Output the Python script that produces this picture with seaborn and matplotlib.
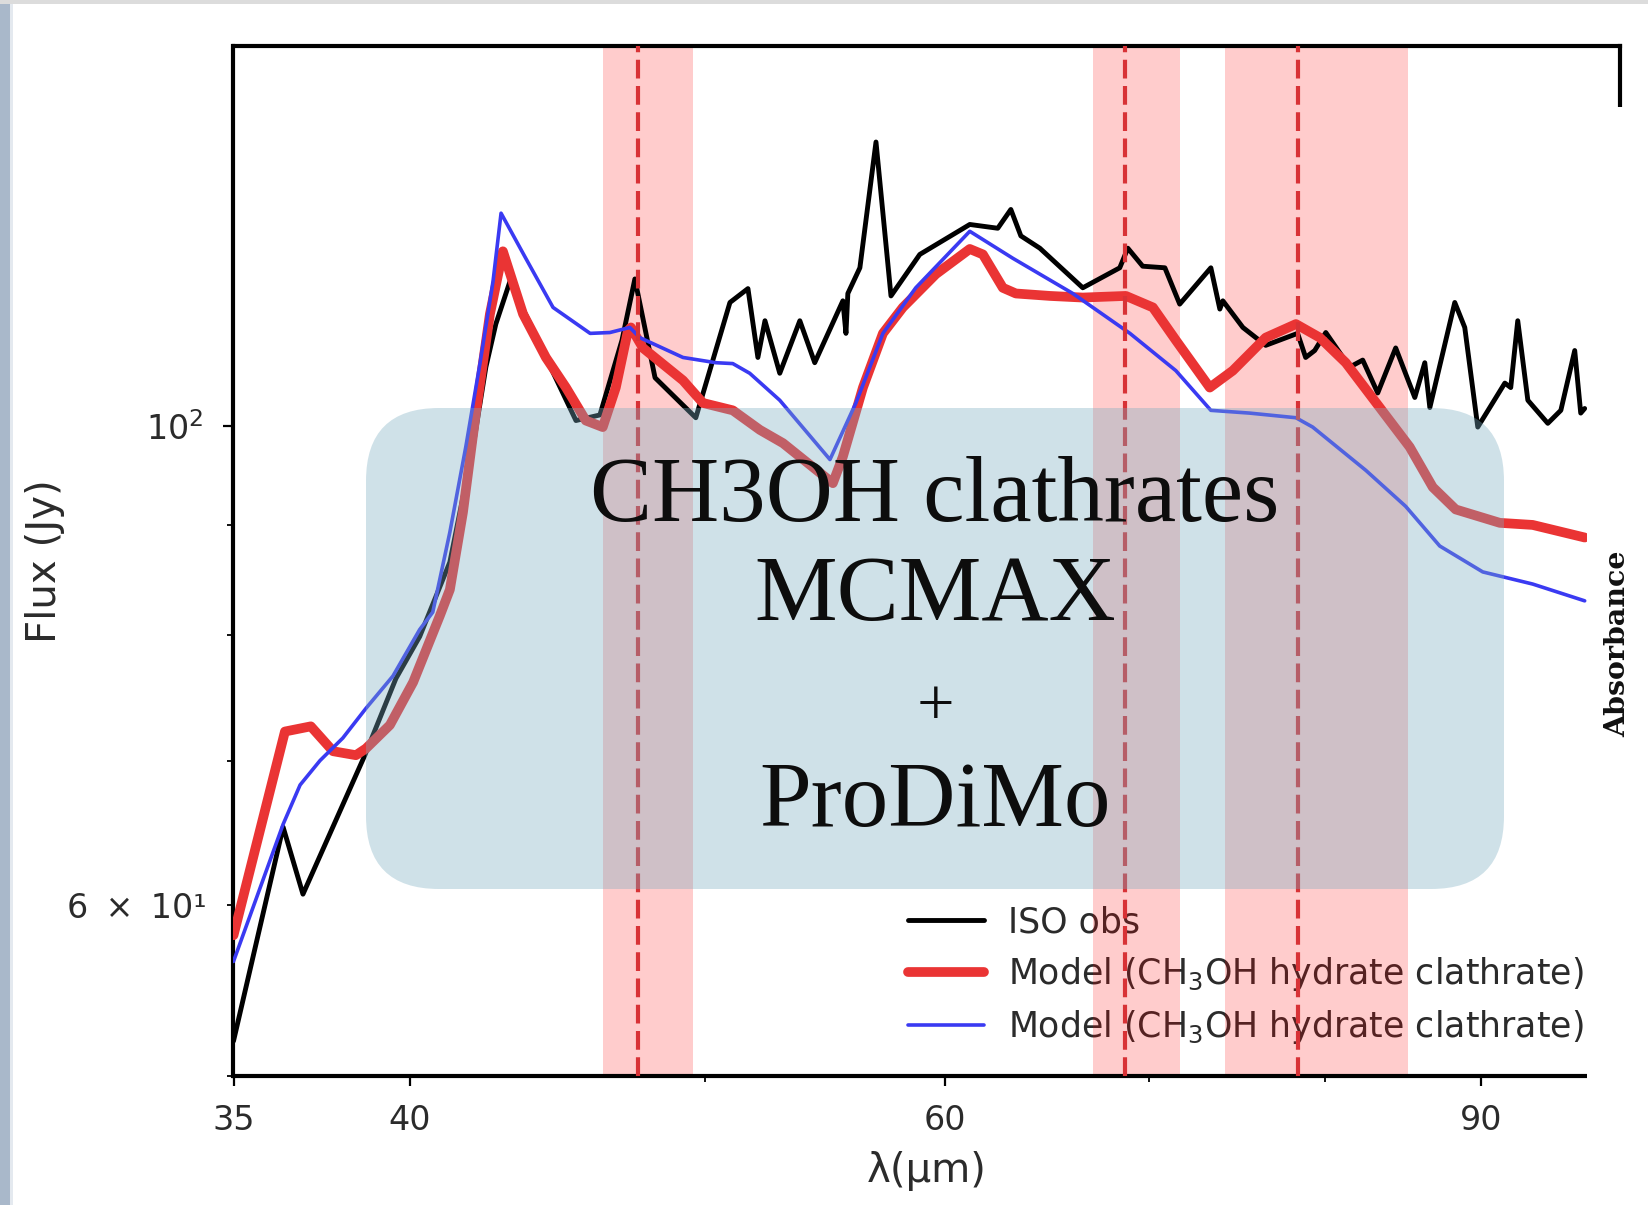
import math
import matplotlib
matplotlib.use("Agg")
import matplotlib.pyplot as plt
import matplotlib.ticker as mticker
from matplotlib.patches import FancyBboxPatch, Rectangle
import numpy as np
import pandas as pd
import seaborn as sns

# ---------------- data ----------------
iso_wl = [35.0, 36.34, 36.89, 38.66, 39.58, 40.30, 41.23, 41.96, 42.37, 42.69, 43.15, 44.34,
          45.36, 46.19, 46.97, 47.43, 48.16, 49.67, 50.97, 51.67, 52.06, 52.34, 52.93, 53.74,
          54.35, 55.52, 55.65, 55.73, 56.24, 56.93, 57.58, 58.85, 61.12, 62.43, 63.05, 63.53,
          64.45, 66.58, 68.47, 68.89, 69.67, 70.85, 71.65, 73.36, 73.86, 74.03, 75.16, 76.47,
          78.34, 78.82, 79.36, 80.03, 81.49, 82.30, 83.24, 84.38, 85.61, 86.26, 86.59, 88.24,
          88.91, 89.79, 91.65, 92.06, 92.55, 93.26, 94.68, 95.62, 96.63, 97.07, 97.36]
iso_flux = [51.9, 65.2, 60.7, 70.4, 76.4, 79.9, 86.5, 97.8, 106.5, 111.5, 116.7, 107.6,
            100.6, 101.2, 109.6, 117.0, 105.3, 100.9, 114.1, 115.8, 107.6, 111.9, 105.8, 111.9,
            107.0, 114.3, 110.4, 115.2, 118.4, 135.4, 114.9, 120.1, 124.0, 123.5, 126.0, 122.5,
            120.9, 115.9, 118.4, 120.9, 118.6, 118.4, 113.9, 118.4, 113.3, 114.3, 111.1, 109.0,
            110.4, 107.6, 108.4, 110.5, 106.5, 107.3, 103.6, 108.7, 103.1, 107.0, 102.0, 114.1,
            111.1, 99.9, 104.7, 104.2, 111.9, 102.8, 100.3, 101.7, 108.4, 101.4, 101.9]

red_wl = [35.0, 36.39, 37.11, 37.74, 38.40, 38.69, 39.40, 40.10, 40.92, 41.23, 41.64, 42.05,
          42.50, 42.92, 43.58, 44.34, 45.02, 45.70, 46.29, 46.75, 47.18, 47.29, 47.72, 49.19,
          49.94, 51.08, 52.14, 53.06, 55.10, 55.52, 56.37, 57.23, 58.10, 59.57, 61.12, 61.73,
          62.67, 63.29, 64.94, 66.58, 68.79, 70.21, 71.44, 73.30, 74.59, 76.47, 78.24, 79.67,
          81.25, 83.37, 85.28, 86.78, 88.30, 91.30, 93.60, 97.36]
red_flux = [58.1, 72.2, 72.6, 70.7, 70.4, 70.9, 72.7, 76.1, 81.7, 84.0, 91.2, 101.4,
            112.7, 120.5, 112.7, 107.6, 104.2, 100.6, 99.9, 104.2, 110.7, 111.1, 108.7, 105.0,
            102.5, 101.7, 99.6, 98.2, 94.1, 96.8, 104.2, 110.4, 113.5, 117.6, 120.8, 120.1,
            115.9, 115.2, 114.9, 114.7, 114.9, 113.5, 109.6, 104.2, 106.1, 109.9, 111.5, 109.9,
            107.0, 102.0, 97.8, 93.7, 91.5, 90.2, 90.0, 88.8]

blue_wl = [35.0, 36.34, 36.81, 37.37, 38.02, 38.69, 39.49, 40.30, 40.70, 41.23, 41.73, 42.18,
           42.60, 42.86, 43.67, 44.58, 45.85, 46.54, 47.25, 47.61, 49.19, 50.43, 51.08, 51.74,
           52.93, 54.98, 56.07, 57.23, 58.67, 61.12, 63.15, 66.08, 69.0, 71.44, 73.36, 75.55,
           78.24, 79.24, 82.49, 85.02, 87.24, 90.13, 93.60, 97.36]
blue_flux = [56.5, 65.4, 68.2, 70.0, 71.7, 74.0, 76.6, 80.5, 82.0, 89.3, 97.8, 106.9,
             116.7, 125.5, 119.6, 113.5, 110.4, 110.5, 111.1, 109.9, 107.6, 107.0, 106.9, 105.8,
             102.8, 96.5, 102.5, 110.4, 115.9, 123.1, 119.6, 115.2, 110.4, 106.1, 101.7, 101.4,
             100.9, 99.9, 95.4, 91.8, 88.0, 85.6, 84.5, 83.0]

band_centers = [47.54, 68.73, 78.34]
band_lo = [46.29, 67.08, 74.14]
band_hi = [49.56, 71.65, 85.15]

x_ticks = [35, 40, 60, 90]
x_minor = [50, 70, 80, 100]

labels = ["ISO obs",
          "Model (CH$_3$OH hydrate clathrate)",
          "Model (CH$_3$OH hydrate clathrate)"]

box_lines = ["CH3OH clathrates", "MCMAX", "+", "ProDiMo"]

SUPERSCRIPTS = str.maketrans("-0123456789", "⁻⁰¹²³⁴⁵⁶⁷⁸⁹")


class WideSciFormatter(mticker.LogFormatterSciNotation):
    """Log formatter with wider spacing around the multiplication sign."""
    def _non_decade_format(self, sign_string, base, fx, usetex):
        b = float(base)
        exponent = math.floor(fx)
        coeff = b ** (fx - exponent)
        if np.isclose(coeff, round(coeff)):
            coeff = round(coeff)
        return "%s%g \u2009×\u2009 %s%s" % (sign_string, coeff, base,
                                            str(exponent).translate(SUPERSCRIPTS))


# ---------------- style ----------------
sns.set_theme(style="white")
plt.rcParams["font.family"] = ["DejaVu Sans"]
plt.rcParams["mathtext.fontset"] = "dejavusans"

W, H = 1649, 1205
fig = plt.figure(figsize=(W / 100, H / 100), dpi=100)
fig.patch.set_facecolor("white")

ax_l, ax_r, ax_t, ax_b = 233.5, 1620, 46, 1076
ax = fig.add_axes([ax_l / W, 1 - ax_b / H, (ax_r - ax_l) / W, (ax_b - ax_t) / H])
ax.set_facecolor("white")

df_iso = pd.DataFrame({"wl": iso_wl, "flux": iso_flux})
df_red = pd.DataFrame({"wl": red_wl, "flux": red_flux})
df_blue = pd.DataFrame({"wl": blue_wl, "flux": blue_flux})

sns.lineplot(data=df_iso, x="wl", y="flux", ax=ax, color="black", lw=3.5,
             sort=False, estimator=None, label=labels[0], zorder=3)
sns.lineplot(data=df_red, x="wl", y="flux", ax=ax, color="#ea3434", lw=7.0,
             sort=False, estimator=None, label=labels[1], zorder=3.2)
sns.lineplot(data=df_blue, x="wl", y="flux", ax=ax, color="#3a3af2", lw=2.6,
             sort=False, estimator=None, label=labels[2], zorder=3.4)

for lo, hi in zip(band_lo, band_hi):
    ax.axvspan(lo, hi, color="red", alpha=0.2, lw=0, zorder=1)
for c in band_centers:
    ax.axvline(c, color="#d83236", lw=3.0, ls=(0, (4.5, 1.8)), zorder=4)

ax.set_xscale("log")
ax.set_yscale("log")
ax.set_xlim(35, 100)
ax.set_ylim(50, 150)

ax.xaxis.set_major_locator(mticker.FixedLocator(x_ticks))
ax.xaxis.set_major_formatter(mticker.FixedFormatter([str(t) for t in x_ticks]))
ax.xaxis.set_minor_locator(mticker.FixedLocator(x_minor))
ax.xaxis.set_minor_formatter(mticker.NullFormatter())
ax.yaxis.set_major_formatter(WideSciFormatter(10))
ax.yaxis.set_minor_formatter(WideSciFormatter(10, labelOnlyBase=False))

tick_col = "#2b2b2b"
ax.tick_params(axis="both", which="major", direction="out", length=7, width=1.6,
               labelsize=24, labelcolor=tick_col, color="black")
ax.tick_params(axis="both", which="minor", direction="out", length=4, width=1.3,
               labelsize=24, labelcolor=tick_col, color="black")
ax.tick_params(axis="x", which="both", pad=13.5, bottom=True)
ax.tick_params(axis="y", which="both", pad=15, left=True)

for s in ax.spines.values():
    s.set_linewidth(3.0)
    s.set_color("black")

ax.set_xlabel("λ(μm)", fontsize=29, color=tick_col, labelpad=9.5)
ax.set_ylabel("Flux (Jy)", fontsize=29, color=tick_col, labelpad=2)

leg = ax.legend(loc="lower right", bbox_to_anchor=(1584 / W, 1 - 1046 / H),
                bbox_transform=fig.transFigure, frameon=False, fontsize=25,
                handlelength=2.2, handletextpad=0.7, borderpad=0, borderaxespad=0,
                labelspacing=0.44, labelcolor=tick_col)
leg.set_zorder(0.5)

# cover of the cropped right-hand side of the slide
fig.add_artist(Rectangle((1587 / W, 0), 1 - 1587 / W, 1 - 107 / H, transform=fig.transFigure,
                         facecolor="white", edgecolor="none", zorder=5))
fig.text(1618 / W, 1 - 644 / H, "Absorbance", rotation=90, ha="center", va="center",
         fontsize=20.5, fontweight="bold", family=["DejaVu Serif"], color="#111111", zorder=6)

# slide border
fig.add_artist(Rectangle((0, 0), 10 / W, 1, transform=fig.transFigure,
                         facecolor="#a9b8ca", edgecolor="none", zorder=7))
fig.add_artist(Rectangle((10 / W, 0), 3 / W, 1, transform=fig.transFigure,
                         facecolor="#e4e9ef", edgecolor="none", zorder=7))
fig.add_artist(Rectangle((0, 1 - 4 / H), 1, 4 / H, transform=fig.transFigure,
                         facecolor="#dcdcdc", edgecolor="none", zorder=7))

# translucent overlay box with text
bx0, bx1, by0, by1 = 366, 1504, 408, 889
r = 73
box = FancyBboxPatch(((bx0 + r) / W, 1 - (by1 - r) / H), (bx1 - bx0 - 2 * r) / W,
                     (by1 - by0 - 2 * r) / H,
                     boxstyle=f"round,pad={r / W},rounding_size={r / W}",
                     mutation_aspect=W / H,
                     transform=fig.transFigure, facecolor="#7aacc0", edgecolor="none",
                     alpha=0.36, zorder=8)
fig.add_artist(box)

cx = 935 / W
serif = ["Liberation Serif", "DejaVu Serif"]
txt_col = "#0d0d0d"
fig.text(cx, 1 - 521 / H, box_lines[0], ha="center", va="baseline", fontsize=67,
         family=serif, color=txt_col, zorder=9)
fig.text(cx, 1 - 620 / H, box_lines[1], ha="center", va="baseline", fontsize=67,
         family=serif, color=txt_col, zorder=9)
fig.text(cx, 1 - 708 / H, box_lines[2], ha="center", va="center", fontsize=48,
         family=serif, color=txt_col, zorder=9)
fig.text(cx, 1 - 826 / H, box_lines[3], ha="center", va="baseline", fontsize=67,
         family=serif, color=txt_col, zorder=9)

fig.savefig("out.png", dpi=100)
